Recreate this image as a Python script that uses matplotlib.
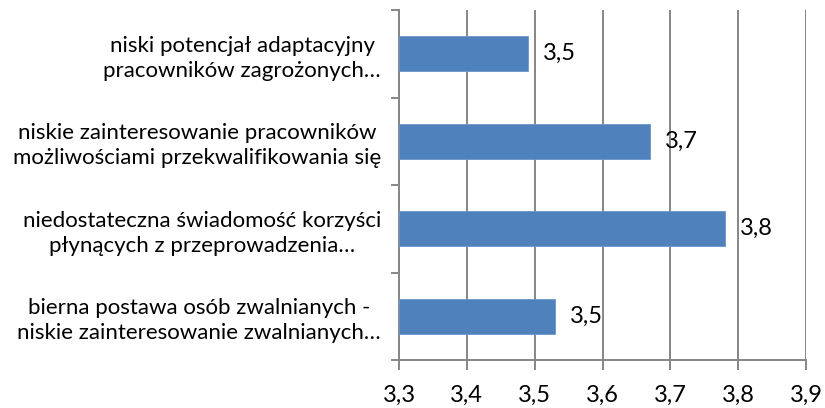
import matplotlib.pyplot as plt
import numpy as np

# categories listed top to bottom as in the chart
categories = [
    "niski potencjał adaptacyjny\npracowników zagrożonych…",
    "niskie zainteresowanie pracowników\nmożliwościami przekwalifikowania się",
    "niedostateczna świadomość korzyści\npłynących z przeprowadzenia…",
    "bierna postawa osób zwalnianych -\nniskie zainteresowanie zwalnianych…",
]
values = [3.49, 3.67, 3.78, 3.53]
x_ticks = [3.3, 3.4, 3.5, 3.6, 3.7, 3.8, 3.9]

plt.rcParams['font.family'] = ['Lato', 'DejaVu Sans']

fig = plt.figure(figsize=(8.25, 4.08), dpi=100)
ax = fig.add_axes([399 / 825, 48 / 408, 407 / 825, 350 / 408])

grey = '#868686'
n = len(categories)
y = np.arange(n)[::-1]
x0 = x_ticks[0]

ax.barh(y, [v - x0 for v in values], left=x0, height=0.4,
        color='#4F81BD', edgecolor='#6A96CC', linewidth=0.6, zorder=3)

for yi, v in zip(y, values):
    ax.annotate(f"{v:.1f}".replace('.', ','), xy=(v, yi), xytext=(11, 0),
                textcoords='offset points', ha='left', va='center',
                fontsize=17, color='black')

ax.set_xlim(x_ticks[0], x_ticks[-1])
ax.set_ylim(-0.5, n - 0.5)
ax.set_xticks(x_ticks)
ax.set_xticklabels([f"{t:.1f}".replace('.', ',') for t in x_ticks], fontsize=17)
ax.grid(axis='x', color=grey, linewidth=1.4, zorder=0)

ax.set_yticks(y)
ax.set_yticklabels(categories, fontsize=16, ha='right', multialignment='center',
                   linespacing=1.3)
ax.set_yticks(np.arange(n + 1) - 0.5, minor=True)
ax.tick_params(axis='y', which='major', length=0, pad=13)
ax.tick_params(axis='y', which='minor', length=6, color=grey, width=1.4)
ax.tick_params(axis='x', length=7, color=grey, width=1.4, pad=11)

for side in ['top', 'right']:
    ax.spines[side].set_visible(False)
for side in ['left', 'bottom']:
    ax.spines[side].set_color(grey)
    ax.spines[side].set_linewidth(1.4)

fig.savefig('out.png', dpi=100)
